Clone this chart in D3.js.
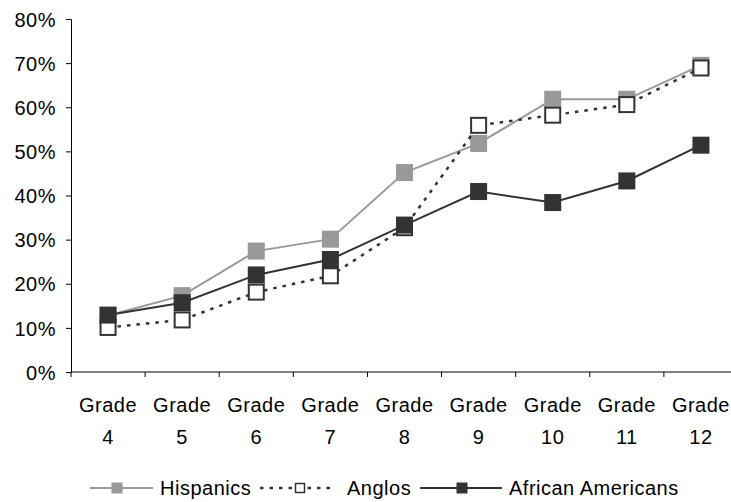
<!DOCTYPE html>
<html><head><meta charset="utf-8">
<script src="https://cdn.jsdelivr.net/npm/d3@7/dist/d3.min.js"></script>
<style>
html,body{margin:0;padding:0;background:#fff;}
svg{display:block;}
text{font-family:"Liberation Sans",Arial,sans-serif;font-size:20px;letter-spacing:0.5px;fill:#000;}
</style></head>
<body>
<svg id="c" width="731" height="502"></svg>
<script>
const grades = ["4","5","6","7","8","9","10","11","12"];
const yTicks = [0,10,20,30,40,50,60,70,80];
const hispanics = [12.8, 17.3, 27.4, 30.1, 45.2, 51.8, 61.8, 61.8, 69.5];
const anglos = [10.1, 11.8, 18.1, 21.8, 32.7, 55.9, 58.2, 60.6, 68.9];
const africanAmericans = [12.9, 15.7, 22.0, 25.5, 33.3, 40.9, 38.4, 43.3, 51.4];
const seriesNames = ["Hispanics","Anglos","African Americans"];

const svg = d3.select("#c");
const x = d3.scaleBand().domain(grades).range([71, 738]).padding(0);
const y = d3.scaleLinear().domain([0,80]).range([372,19]);
const cx = g => x(g) + x.bandwidth()/2;

// y axis
const ya = svg.append("g").attr("transform","translate(71,0)")
  .call(d3.axisLeft(y).tickValues(yTicks).tickSize(5).tickPadding(10).tickFormat(d => d + "%"));
ya.select(".domain").attr("stroke","#000");
ya.selectAll(".tick line").attr("stroke","#000");
ya.selectAll("text").style("font-size","20px").style("font-family","Liberation Sans, Arial, sans-serif").attr("dy","0.36em");

// x axis
const xa = svg.append("g").attr("transform","translate(0,372)");
xa.append("line").attr("x1",71).attr("x2",738).attr("y1",0).attr("y2",0).attr("stroke","#000");
const bounds = grades.map(g => x(g)).concat([x(grades[grades.length-1]) + x.bandwidth()]);
xa.selectAll("line.t").data(bounds).enter().append("line").attr("class","t")
  .attr("x1",d=>d).attr("x2",d=>d).attr("y1",0).attr("y2",5).attr("stroke","#000");
const lab = xa.selectAll("text.g").data(grades).enter().append("text").attr("class","g")
  .attr("text-anchor","middle").attr("x", d => cx(d));
lab.append("tspan").attr("x", d => cx(d)).attr("y", 40).text("Grade");
lab.append("tspan").attr("x", d => cx(d)).attr("y", 72).text(d => d);

const line = d3.line().x((d,i) => cx(grades[i])).y(d => y(d));
const S = 17;

const series = [
  {name: seriesNames[0], vals: hispanics, stroke: "#999999", fill: "#999999", mstroke: "none", dash: null, w: 2},
  {name: seriesNames[1], vals: anglos, stroke: "#333333", fill: "#ffffff", mstroke: "#333333", dash: "3.5,6", w: 2.5},
  {name: seriesNames[2], vals: africanAmericans, stroke: "#333333", fill: "#333333", mstroke: "none", dash: null, w: 2}
];

series.forEach(s => {
  svg.append("path").datum(s.vals).attr("d", line).attr("fill","none")
    .attr("stroke", s.stroke).attr("stroke-width", s.w)
    .attr("stroke-dasharray", s.dash);
  svg.selectAll(null).data(s.vals).enter().append("rect")
    .attr("x", (d,i) => cx(grades[i]) - (s.mstroke === "none" ? S/2 : S/2 - 1))
    .attr("y", d => y(d) - (s.mstroke === "none" ? S/2 : S/2 - 1))
    .attr("width", s.mstroke === "none" ? S : S - 2)
    .attr("height", s.mstroke === "none" ? S : S - 2)
    .attr("fill", s.fill).attr("stroke", s.mstroke).attr("stroke-width", 2);
});

// legend
const ly = 488;
const leg = [
  {x1: 90, x2: 153, mx: 117, tx: 160},
  {x1: 260, x2: 334, mx: 300, tx: 347},
  {x1: 420, x2: 502, mx: 462, tx: 509}
];
series.forEach((s,i) => {
  const L = leg[i];
  svg.append("line").attr("x1",L.x1).attr("x2",L.x2).attr("y1",ly).attr("y2",ly)
    .attr("stroke", s.stroke).attr("stroke-width", s.w).attr("stroke-dasharray", s.dash);
  const m = 11;
  if (s.mstroke === "none") {
    svg.append("rect").attr("x", L.mx - m/2).attr("y", ly - m/2).attr("width", m).attr("height", m).attr("fill", s.fill);
  } else {
    svg.append("rect").attr("x", L.mx - m/2 + 1).attr("y", ly - m/2 + 1).attr("width", m - 2).attr("height", m - 2)
      .attr("fill", s.fill).attr("stroke", s.mstroke).attr("stroke-width", 1.5);
  }
  svg.append("text").attr("x", L.tx).attr("y", ly).attr("dy","0.36em").text(s.name);
});
</script>
</body></html>
